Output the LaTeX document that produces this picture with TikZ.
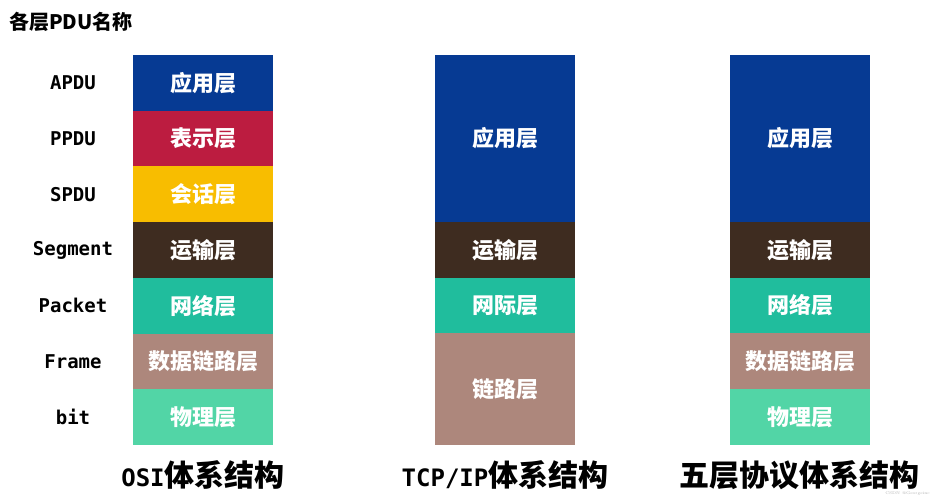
\documentclass[tikz,border=0pt]{standalone}
\usepackage{fontspec}
\usepackage{tikz}
\usetikzlibrary{positioning}
\newfontfamily\cjkfont{Noto Sans CJK SC}
\newfontfamily\pdufont{DejaVu Sans Mono}
\definecolor{appblue}{HTML}{063A93}
\definecolor{presred}{HTML}{BC1C40}
\definecolor{sessyellow}{HTML}{F8BD00}
\definecolor{transbrown}{HTML}{3E2C20}
\definecolor{netteal}{HTML}{20BD9D}
\definecolor{linktan}{HTML}{AD877C}
\definecolor{phygreen}{HTML}{52D5A6}
\newcommand*\layerwidth {140pt}
\newcommand*\layerheight{55.7pt}
\tikzset{
    layer/.style      = {rectangle, minimum width=\layerwidth, minimum height=\layerheight,
                        inner sep=0pt, outer sep=0pt, text=white,
                        font=\cjkfont\bfseries\fontsize{22}{26}\selectfont},
    applayer/.style   = {layer,fill=appblue},
    preslayer/.style  = {layer,fill=presred},
    sesslayer/.style  = {layer,fill=sessyellow},
    translayer/.style = {layer,fill=transbrown},
    netlayer/.style   = {layer,fill=netteal},
    linklayer/.style  = {layer,fill=linktan},
    phylayer/.style   = {layer,fill=phygreen},
    tallapplayer/.style  = {applayer,minimum height=167pt},
    talllinklayer/.style = {linklayer,minimum height=112pt},
    pdulabel/.style   = {inner sep=0pt, font=\pdufont\bfseries\fontsize{19}{23}\selectfont},
    archtitle/.style  = {inner sep=0pt, font=\cjkfont\bfseries\fontsize{30}{36}\selectfont},
  }
\newcommand*\latpart[1]{{\pdufont\fontsize{24}{30}\selectfont #1}}

\begin{document}
\begin{tikzpicture}[x=1pt,y=-1pt]
    \useasboundingbox (0,0) rectangle (933,500);

    % Heading in the upper left corner
    \node[anchor=west, inner sep=0pt, font=\cjkfont\bfseries\fontsize{20}{24}\selectfont] (heading) at (9,22) {各层PDU名称};

    % OSI column: seven layers stacked
    \node[applayer, anchor=north] (osi-app) at (203,55) {应用层};
    \node[preslayer,  below=0pt of osi-app]   (osi-pres)  {表示层};
    \node[sesslayer,  below=0pt of osi-pres]  (osi-sess)  {会话层};
    \node[translayer, below=0pt of osi-sess]  (osi-trans) {运输层};
    \node[netlayer,   below=0pt of osi-trans] (osi-net)   {网络层};
    \node[linklayer,  below=0pt of osi-net]   (osi-link)  {数据链路层};
    \node[phylayer,   below=0pt of osi-link]  (osi-phy)   {物理层};

    % TCP/IP column: four layers
    \node[tallapplayer, anchor=north] (tcp-app) at (505,55) {应用层};
    \node[translayer,    below=0pt of tcp-app]   (tcp-trans) {运输层};
    \node[netlayer,      below=0pt of tcp-trans] (tcp-net)   {网际层};
    \node[talllinklayer, below=0pt of tcp-net]   (tcp-link)  {链路层};

    % Five-layer column
    \node[tallapplayer, anchor=north] (five-app) at (800,55) {应用层};
    \node[translayer, below=0pt of five-app]   (five-trans) {运输层};
    \node[netlayer,   below=0pt of five-trans] (five-net)   {网络层};
    \node[linklayer,  below=0pt of five-net]   (five-link)  {数据链路层};
    \node[phylayer,   below=0pt of five-link]  (five-phy)   {物理层};

    % PDU names: left of the west anchor of each OSI layer
    \foreach \t/\n in {APDU/app,PPDU/pres,SPDU/sess,Segment/trans,Packet/net,Frame/link,bit/phy} {
        \node[pdulabel] (pdu-\n) at ([xshift=-60pt]osi-\n.west) {\t};
    }

    % Column titles
    \node[archtitle] (osi-title)  at (203,475) {\latpart{OSI}体系结构};
    \node[archtitle] (tcp-title)  at (505,475) {\latpart{TCP/IP}体系结构};
    \node[archtitle] (five-title) at (799,475) {五层协议体系结构};

    \node[anchor=east, inner sep=0pt, text=gray!60, font=\fontsize{4}{5}\selectfont] (mark) at (930,493) {CSDN @Georgeinc};
\end{tikzpicture}
\end{document}
